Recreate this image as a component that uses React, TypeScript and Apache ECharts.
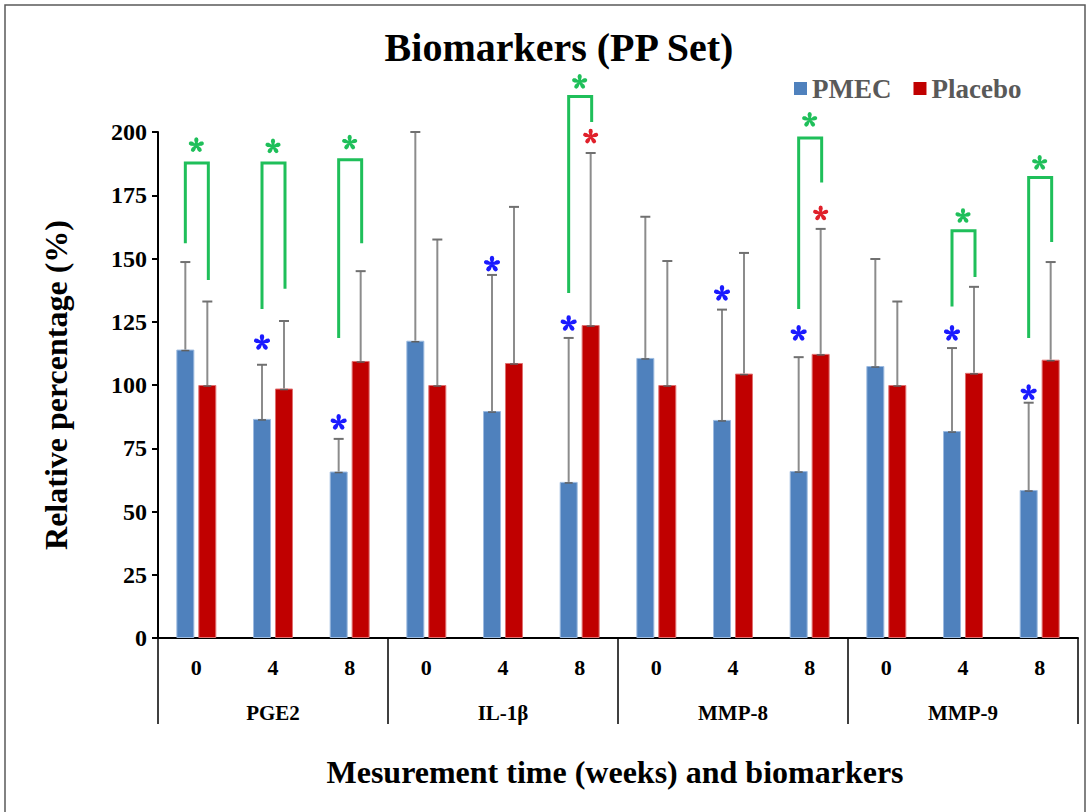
import React, { useEffect, useRef } from "react";
import * as echarts from "echarts";

const weekLabels = ["0", "4", "8", "0", "4", "8", "0", "4", "8", "0", "4", "8"];
const groups = ["PGE2", "IL-1β", "MMP-8", "MMP-9"];

const pmec = [114, 86.6, 65.8, 117.5, 89.7, 61.7, 110.7, 86.2, 66, 107.5, 81.8, 58.5];
const placebo = [100, 98.6, 109.5, 100, 108.7, 123.7, 100, 104.5, 112.3, 100, 104.8, 110];
const pmecErrTop = [148.6, 108, 78.7, 200, 143.5, 118.6, 166.5, 129.8, 111, 149.8, 114.6, 93];
const placeboErrTop = [133, 125.3, 145, 157.5, 170.4, 191.7, 149, 152.2, 161.7, 133, 138.8, 148.6];

// significance brackets (PMEC vs Placebo)
const bracketCats = [0, 1, 2, 5, 8, 10, 11];
const bracketLeftLow = [156, 130, 118.6, 136.4, 130, 131, 118.6];
const bracketTop = [187.7, 187.7, 189, 214, 197.6, 161, 182];
const bracketRightLow = [141.5, 138, 156, 204, 180, 142.7, 156.5];
const greenStarVals = [195, 194.5, 196, 220, 205, 167, 188];

// within-group stars
const blueStarCats = [1, 2, 4, 5, 7, 8, 10, 11];
const blueStarVals = [117, 85.4, 148, 124.5, 136.4, 120.6, 120.6, 97.2];
const redStarCats = [5, 8];
const redStarVals = [198.4, 168];

const FONT = "'Liberation Serif', 'Times New Roman', serif";

function asteriskPath(): string {
  const parts: string[] = [];
  for (let k = 0; k < 5; k++) {
    const a = ((-90 + 72 * k) * Math.PI) / 180;
    const dx = Math.cos(a), dy = Math.sin(a);
    const px = -dy, py = dx;
    const pt = (r: number, w: number) =>
      `${(50 + (dx * r + px * w) * 50).toFixed(2)} ${(50 + (dy * r + py * w) * 50).toFixed(2)}`;
    parts.push(
      `M${pt(0, 0.1)} L${pt(0.65, 0.27)} L${pt(0.92, 0.2)} L${pt(1, 0)} L${pt(0.92, -0.2)} L${pt(0.65, -0.27)} L${pt(0, -0.1)} Z`
    );
  }
  return "path://" + parts.join(" ");
}

const STAR = asteriskPath();
const OFF = 11;

function errRender(offset: number) {
  return (params: any, api: any) => {
    const x = api.value(0);
    const p0 = api.coord([x, api.value(1)]);
    const p1 = api.coord([x, api.value(2)]);
    const cx = p0[0] + offset;
    return {
      type: "group",
      children: [
        { type: "line", shape: { x1: cx, y1: p0[1], x2: cx, y2: p1[1] }, style: { stroke: "#8c8c8c", lineWidth: 2 } },
        { type: "line", shape: { x1: cx - 5, y1: p1[1], x2: cx + 5, y2: p1[1] }, style: { stroke: "#707070", lineWidth: 2 } },
        { type: "line", shape: { x1: cx - 4, y1: p0[1] + 1, x2: cx + 4, y2: p0[1] + 1 }, style: { stroke: "#606060", lineWidth: 1.5 } },
      ],
    };
  };
}

function bracketRender(params: any, api: any) {
  const x = api.value(0);
  const pl = api.coord([x, api.value(1)]);
  const pt = api.coord([x, api.value(2)]);
  const pr = api.coord([x, api.value(3)]);
  const lx = pl[0] - OFF;
  const rx = pl[0] + OFF + 1;
  return {
    type: "polyline",
    shape: { points: [[lx, pl[1]], [lx, pt[1]], [rx, pt[1]], [rx, pr[1]]] },
    style: { stroke: "#1fbf5a", lineWidth: 3, fill: "none" },
  };
}

export default function App() {
  const ref = useRef<HTMLDivElement>(null);
  useEffect(() => {
    document.body.style.margin = "0";
    const chart = echarts.init(ref.current!, null, { renderer: "svg" });
    const option: any = {
      animation: false,
      backgroundColor: "#ffffff",
      title: {
        text: "Biomarkers (PP Set)",
        left: 554,
        textAlign: "center",
        top: 22,
        textStyle: { fontFamily: FONT, fontWeight: "bold", fontSize: 40, color: "#000" },
      },
      legend: {
        data: ["PMEC", "Placebo"],
        left: 789,
        top: 70,
        icon: "rect",
        itemWidth: 13,
        itemHeight: 13,
        itemGap: 22,
        itemStyle: { borderWidth: 0 },
        textStyle: { fontFamily: FONT, fontWeight: "bold", fontSize: 27, color: "#595959" },
      },
      grid: { left: 158, right: 10, top: 132, bottom: 174, containLabel: false },
      xAxis: [
        {
          type: "category",
          data: weekLabels,
          axisLine: { lineStyle: { color: "#000", width: 2 } },
          axisTick: { show: false },
          axisLabel: { margin: 18, fontFamily: FONT, fontWeight: "bold", fontSize: 22, color: "#000", interval: 0 },
        },
        {
          type: "category",
          data: groups,
          position: "bottom",
          axisLine: { show: false },
          axisTick: { show: true, length: 86, lineStyle: { color: "#000", width: 1.5 } },
          axisLabel: { margin: 64, fontFamily: FONT, fontWeight: "bold", fontSize: 21, color: "#000", interval: 0 },
        },
      ],
      yAxis: {
        type: "value",
        min: 0,
        max: 200,
        interval: 25,
        name: "Relative percentage (%)",
        nameLocation: "middle",
        nameGap: 86,
        nameTextStyle: { fontFamily: FONT, fontWeight: "bold", fontSize: 32, color: "#000" },
        axisLine: { show: true, lineStyle: { color: "#000", width: 2 } },
        axisTick: { show: true, length: 6, lineStyle: { color: "#000", width: 2 } },
        splitLine: { show: false },
        axisLabel: { margin: 11, fontFamily: FONT, fontWeight: "bold", fontSize: 24, color: "#000" },
      },
      graphic: [
        {
          type: "rect",
          shape: { x: 5, y: 5, width: 1080, height: 830 },
          style: { fill: "none", stroke: "#5a5a5a", lineWidth: 1.5 },
          silent: true,
        },
        {
          type: "text",
          x: 615,
          y: 772,
          style: {
            text: "Mesurement time (weeks) and biomarkers",
            fontFamily: FONT,
            fontWeight: "bold",
            fontSize: 32,
            fill: "#000",
            textAlign: "center",
            textVerticalAlign: "middle",
          },
        },
      ],
      series: [
        {
          name: "PMEC",
          type: "bar",
          data: pmec,
          barWidth: 18,
          barGap: "22%",
          itemStyle: { color: "#4f81bd", borderColor: "#9dbbe0", borderWidth: 1 },
        },
        {
          name: "Placebo",
          type: "bar",
          data: placebo,
          barWidth: 18,
          barGap: "22%",
          itemStyle: { color: "#c00000", borderColor: "#e07070", borderWidth: 1 },
        },
        {
          type: "custom",
          renderItem: errRender(-OFF),
          data: pmec.map((v, i) => [i, v, pmecErrTop[i]]),
          encode: { x: 0, y: [1, 2] },
          clip: false,
          z: 3,
        },
        {
          type: "custom",
          renderItem: errRender(OFF),
          data: placebo.map((v, i) => [i, v, placeboErrTop[i]]),
          encode: { x: 0, y: [1, 2] },
          clip: false,
          z: 3,
        },
        {
          type: "custom",
          renderItem: bracketRender,
          data: bracketCats.map((c, i) => [c, bracketLeftLow[i], bracketTop[i], bracketRightLow[i]]),
          encode: { x: 0, y: [1, 2, 3] },
          clip: false,
          z: 4,
        },
        {
          type: "scatter",
          data: bracketCats.map((c, i) => [c, greenStarVals[i]]),
          symbol: STAR,
          symbolSize: 15,
          symbolKeepAspect: true,
          itemStyle: { color: "#1fbf5a", opacity: 1 },
          clip: false,
          z: 5,
        },
        {
          type: "scatter",
          data: blueStarCats.map((c, i) => [c, blueStarVals[i]]),
          symbol: STAR,
          symbolSize: 16,
          symbolKeepAspect: true,
          symbolOffset: [-OFF, 0],
          itemStyle: { color: "#1a1aff", opacity: 1 },
          clip: false,
          z: 5,
        },
        {
          type: "scatter",
          data: redStarCats.map((c, i) => [c, redStarVals[i]]),
          symbol: STAR,
          symbolSize: 15,
          symbolKeepAspect: true,
          symbolOffset: [OFF, 0],
          itemStyle: { color: "#e0202a", opacity: 1 },
          clip: false,
          z: 5,
        },
      ],
    };
    chart.setOption(option);
    return () => chart.dispose();
  }, []);
  return <div ref={ref} style={{ width: 1088, height: 812 }} />;
}
